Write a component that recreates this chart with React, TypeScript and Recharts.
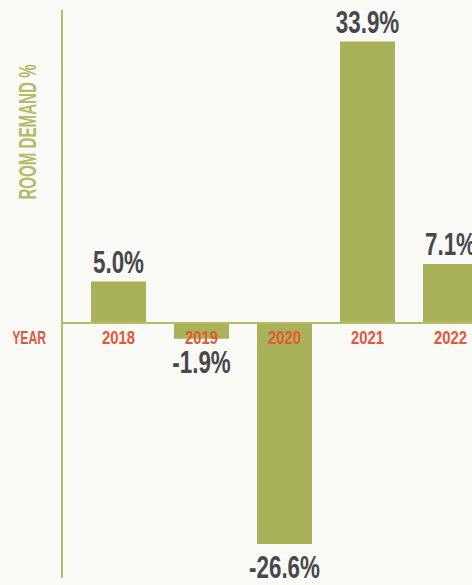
import React from 'react';
import { BarChart, Bar, XAxis, YAxis, ReferenceLine, LabelList } from 'recharts';

const years = ['2018', '2019', '2020', '2021', '2022'];
const demandChange = [5.0, -1.9, -26.6, 33.9, 7.1];

const data = years.map((year, i) => ({ year, value: demandChange[i] }));

const FONT = '"Liberation Sans", Arial, sans-serif';
const BAR = '#a9b258';
const AXIS = '#b4bc68';
const YEAR_RED = '#e5573a';
const VALUE_GREY = '#48484c';

// narrow text: the original uses a tall condensed face, squeeze a regular bold one
const Narrow = ({ x, y, sx, anchor = 'middle', fill, size, rotate = 0, children }: any) => (
    <g transform={`translate(${x}, ${y}) rotate(${rotate}) scale(${sx}, 1)`}>
        <text x={0} y={0} textAnchor={anchor} fill={fill} fontFamily={FONT} fontWeight="bold" fontSize={size}>
            {children}
        </text>
    </g>
);

const ValueLabel = (props: any) => {
    const { x, y, width, height, value } = props;
    const top = Math.min(y, y + height);
    const bottom = Math.max(y, y + height);
    const positive = value >= 0;
    return (
        <Narrow x={x + width / 2} y={positive ? top - 9 : bottom + 34} sx={0.7} fill={VALUE_GREY} size={32}>
            {`${value.toFixed(1)}%`}
        </Narrow>
    );
};

const YearLabel = (props: any) => {
    const { x, y, width, height, value, index } = props;
    const positive = data[index].value >= 0;
    const zero = positive ? Math.max(y, y + height) : Math.min(y, y + height);
    return (
        <Narrow x={x + width / 2} y={zero + 21} sx={0.78} fill={YEAR_RED} size={19}>
            {value}
        </Narrow>
    );
};

export default function App() {
    return (
        <div
            style={{
                position: 'absolute',
                left: 0,
                top: 0,
                width: 472,
                height: 585,
                overflow: 'hidden',
                background: '#f9faf6',
            }}
        >
            <BarChart
                width={492}
                height={585}
                data={data}
                margin={{ top: 10, right: 0, left: 61, bottom: 7 }}
            >
                <XAxis dataKey="year" hide padding={{ left: 15, right: 0 }} />
                <YAxis
                    width={1}
                    domain={[-30.7, 37.7]}
                    tick={false}
                    tickLine={false}
                    axisLine={{ stroke: AXIS, strokeWidth: 2 }}
                    label={({ viewBox }: any) => (
                        <Narrow
                            x={viewBox.x + viewBox.width - 26}
                            y={viewBox.y + 122}
                            rotate={-90}
                            sx={0.63}
                            fill={AXIS}
                            size={24}
                        >
                            ROOM DEMAND %
                        </Narrow>
                    )}
                />
                <Bar dataKey="value" fill={BAR} barSize={55} isAnimationActive={false}>
                    <LabelList dataKey="value" content={ValueLabel} />
                    <LabelList dataKey="year" content={YearLabel} />
                </Bar>
                <ReferenceLine
                    y={0}
                    stroke={AXIS}
                    strokeWidth={2}
                    label={({ viewBox }: any) => (
                        <Narrow x={viewBox.x - 16} y={viewBox.y + 21} anchor="end" sx={0.64} fill={YEAR_RED} size={19}>
                            YEAR
                        </Narrow>
                    )}
                />
            </BarChart>
        </div>
    );
}
